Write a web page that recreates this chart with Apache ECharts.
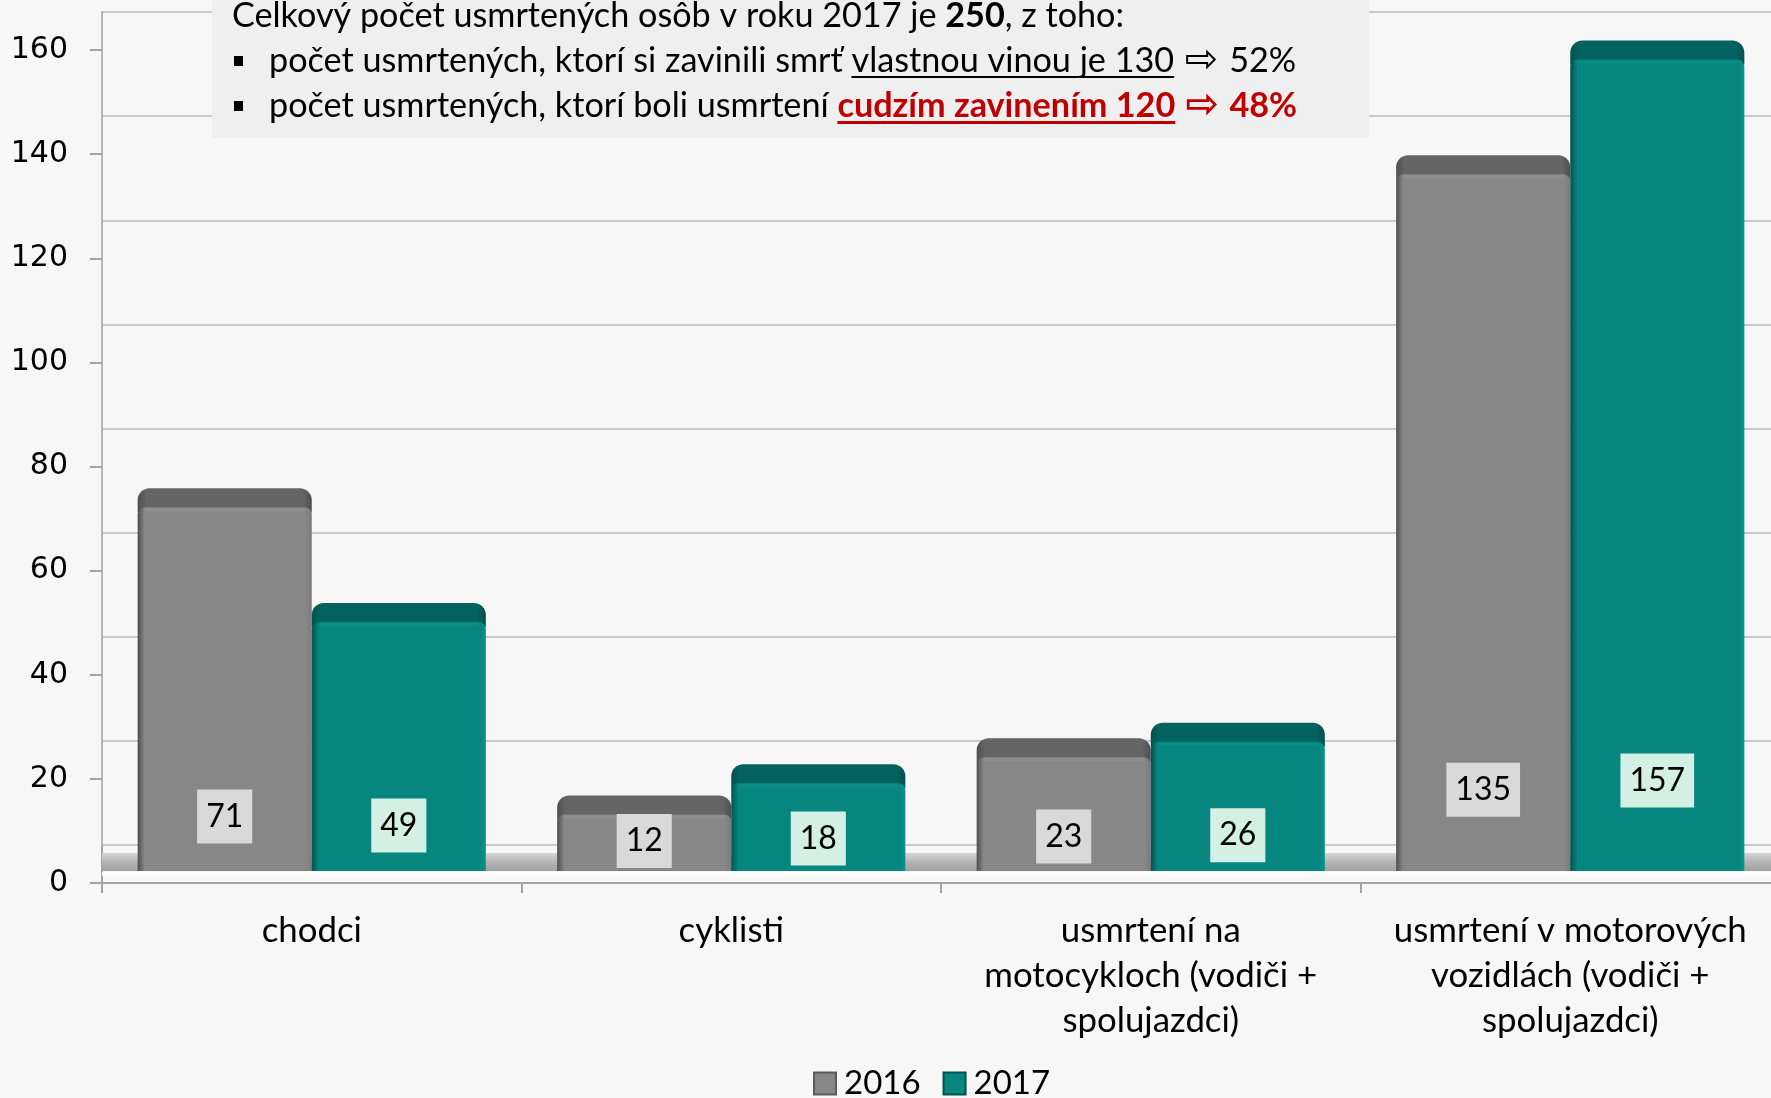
<!DOCTYPE html>
<html><head><meta charset="utf-8">
<script src="https://cdn.jsdelivr.net/npm/echarts@6/dist/echarts.min.js"></script>
<style>html,body{margin:0;padding:0;background:#f7f7f7;}#c{width:1771px;height:1098px;}</style>
</head><body><div id="c"></div>
<script>
// ---------- data ----------
const categories = ['chodci', 'cyklisti', 'usmrtení na\nmotocykloch (vodiči +\nspolujazdci)', 'usmrtení v motorových\nvozidlách (vodiči +\nspolujazdci)'];
const seriesNames = ['2016', '2017'];
const values2016 = [71, 12, 23, 135];
const values2017 = [49, 18, 26, 157];
const yMin = 0, yMax = 160, yStep = 20;
const headerLines = [
  [{t: 'Celkový počet usmrtených osôb v roku 2017 je '}, {t: '250', b: 1}, {t: ', z toho:'}],
  [{t: 'počet usmrtených, ktorí si zavinili smrť '}, {t: 'vlastnou vinou je 130', u: 1}, {t: ' '}, {t: '⇨', a: 1}, {t: ' 52%'}],
  [{t: 'počet usmrtených, ktorí boli usmrtení '}, {t: 'cudzím zavinením 120', u: 1, b: 1, c: '#c00000'}, {t: ' ', b: 1, c: '#c00000'}, {t: '⇨', a: 1, b: 1, c: '#c00000'}, {t: ' 48%', b: 1, c: '#c00000'}]
];

// ---------- layout / style ----------
const SPAN = 833;
const BASE_BARS = 871, BASE_AXIS = 883, BASE_WALL = 845;
const GL = 102, GW = 1678;
const FONT = 'Lato, "DejaVu Sans", sans-serif';
const barStyles = [
  {front: '#878787', cap: '#656565', edgeL: '#4e4e4e', edgeR: '#7a7a7a', rim: '#8f8f8f', labelBg: '#d9d9d9'},
  {front: '#07857f', cap: '#03625e', edgeL: '#03524f', edgeR: '#0c928c', rim: '#0b8d87', labelBg: '#d4efe3'}
];

function makeRender(si) {
  const st = barStyles[si];
  return function (params, api) {
    const ci = api.value(0), v = api.value(1);
    const b = api.coord([ci, 0]), t = api.coord([ci, v]);
    const catW = api.size([1, 0])[0];
    const bw = catW * 0.415;
    const x0 = si === 0 ? b[0] - bw : b[0];
    const base = b[1], top = t[1];
    const h = base - top;
    const cy = base - 25 - 0.08 * h;
    return {
      type: 'group', children: [
        {type: 'rect', shape: {x: x0, y: top - 13, width: bw, height: 24, r: [12, 12, 0, 0]},
          style: {fill: {type: 'linear', x: 0, y: 0, x2: 1, y2: 0, colorStops: [
            {offset: 0, color: st.edgeL}, {offset: 0.05, color: st.cap}, {offset: 0.95, color: st.cap}, {offset: 1, color: st.edgeL}]}}},
        {type: 'rect', shape: {x: x0, y: top + 6, width: bw, height: Math.max(0, h - 6), r: [7, 7, 0, 0]},
          style: {fill: {type: 'linear', x: 0, y: 0, x2: 1, y2: 0, colorStops: [
            {offset: 0, color: st.edgeL}, {offset: 0.04, color: st.front}, {offset: 0.965, color: st.front}, {offset: 1, color: st.edgeR}]}}},
        {type: 'rect', shape: {x: x0 + 7, y: top + 7, width: bw - 14, height: 3}, style: {fill: st.rim}},
        {type: 'text', style: {text: String(v), x: x0 + bw / 2, y: cy, align: 'center', verticalAlign: 'middle',
          font: '32px ' + FONT, fill: '#000', backgroundColor: st.labelBg, padding: [11, 9]}}
      ]
    };
  };
}

// ---------- header graphics ----------
const mctx = document.createElement('canvas').getContext('2d');
function fontOf(seg) { return (seg.b ? 'bold ' : '') + (seg.a ? '40px "DejaVu Sans", sans-serif' : '34.2px ' + FONT); }
const headerGraphics = [];
headerGraphics.push({type: 'rect', z: 10, shape: {x: 212, y: 0, width: 1157, height: 138}, style: {fill: '#efefef'}});
const lineStartX = [232, 269, 269];
const lineCY = [16, 61, 106];
headerLines.forEach((line, li) => {
  let x = lineStartX[li];
  if (li > 0) headerGraphics.push({type: 'rect', z: 11, shape: {x: 234, y: lineCY[li] - 5, width: 9, height: 10}, style: {fill: '#000'}});
  line.forEach(seg => {
    mctx.font = fontOf(seg);
    const w = mctx.measureText(seg.t).width;
    headerGraphics.push({type: 'text', z: 11, x: x + (seg.a ? 2 : 0), y: lineCY[li] + (seg.a ? 1 : 0),
      style: {text: seg.t, font: fontOf(seg), fill: seg.c || '#000', align: 'left', verticalAlign: 'middle', textAlign: 'left', textVerticalAlign: 'middle'}});
    if (seg.u) {
      headerGraphics.push({type: 'rect', z: 11, shape: {x: x, y: lineCY[li] + 15, width: w, height: seg.b ? 3 : 2}, style: {fill: seg.c || '#000'}});
    }
    x += w + (seg.a ? 4 : 0);
  });
});

const floorGraphics = [
  {type: 'rect', z: 1, shape: {x: GL, y: 853, width: 1771 - GL, height: 18},
    style: {fill: {type: 'linear', x: 0, y: 0, x2: 0, y2: 1, colorStops: [
      {offset: 0, color: '#d6d6d6'}, {offset: 0.55, color: '#b2b2b2'}, {offset: 1, color: '#a2a2a2'}]}}},
  {type: 'rect', z: 1, shape: {x: GL, y: 872, width: 1771 - GL, height: 4}, style: {fill: '#fbfbfb'}}
];

// ---------- chart ----------
const chart = echarts.init(document.getElementById('c'), null, {renderer: 'canvas'});
const toPairs = arr => arr.map((v, i) => [i, v]);
const valueAxisBase = {type: 'value', min: yMin, max: yMax, interval: yStep};

chart.setOption({
  backgroundColor: '#f7f7f7',
  animation: false,
  grid: [
    {left: GL, width: GW, top: BASE_BARS - SPAN, height: SPAN, outerBoundsMode: 'none', containLabel: false},
    {left: GL, width: GW, top: BASE_AXIS - SPAN, height: SPAN, outerBoundsMode: 'none', containLabel: false},
    {left: GL, width: GW, top: BASE_WALL - SPAN, height: SPAN, outerBoundsMode: 'none', containLabel: false}
  ],
  xAxis: [
    {type: 'category', data: categories, gridIndex: 0, show: false},
    {type: 'category', data: categories, gridIndex: 1,
      axisLine: {show: true, lineStyle: {color: '#a3a3a3', width: 2}},
      axisTick: {show: true, length: 10, lineStyle: {color: '#a3a3a3', width: 2}},
      axisLabel: {interval: 0, margin: 25, fontFamily: FONT, fontSize: 34.8, lineHeight: 45, color: '#000', align: 'center'}},
    {type: 'category', data: categories, gridIndex: 2, show: false}
  ],
  yAxis: [
    Object.assign({gridIndex: 0, show: false}, valueAxisBase),
    Object.assign({gridIndex: 1,
      axisLine: {show: true, lineStyle: {color: '#a3a3a3', width: 2}},
      axisTick: {show: true, length: 12, lineStyle: {color: '#a3a3a3', width: 2}},
      splitLine: {show: false},
      axisLabel: {margin: 34, fontFamily: '"DejaVu Sans", sans-serif', fontSize: 30, color: '#000'}}, valueAxisBase),
    Object.assign({gridIndex: 2,
      axisLine: {show: true, lineStyle: {color: '#b5b5b5', width: 2}},
      axisTick: {show: false}, axisLabel: {show: false},
      splitLine: {show: true, lineStyle: {color: '#c9c9c9', width: 2}}}, valueAxisBase)
  ],
  legend: {
    left: 813, top: 1067, padding: 0, itemWidth: 22, itemHeight: 22, itemGap: 22,
    textStyle: {fontFamily: FONT, fontSize: 33, color: '#000', padding: [0, 0, 0, 3]},
    data: [
      {name: seriesNames[0], icon: 'rect', itemStyle: {color: '#878787', borderColor: '#5a5a5a', borderWidth: 2}},
      {name: seriesNames[1], icon: 'rect', itemStyle: {color: '#07857f', borderColor: '#03524f', borderWidth: 2}}
    ]
  },
  graphic: floorGraphics.concat(headerGraphics),
  series: [
    {type: 'custom', name: seriesNames[0], xAxisIndex: 0, yAxisIndex: 0, z: 3, itemStyle: {color: '#878787'},
      encode: {x: 0, y: 1}, data: toPairs(values2016), renderItem: makeRender(0)},
    {type: 'custom', name: seriesNames[1], xAxisIndex: 0, yAxisIndex: 0, z: 3, itemStyle: {color: '#07857f'},
      encode: {x: 0, y: 1}, data: toPairs(values2017), renderItem: makeRender(1)}
  ]
});
</script></body></html>
